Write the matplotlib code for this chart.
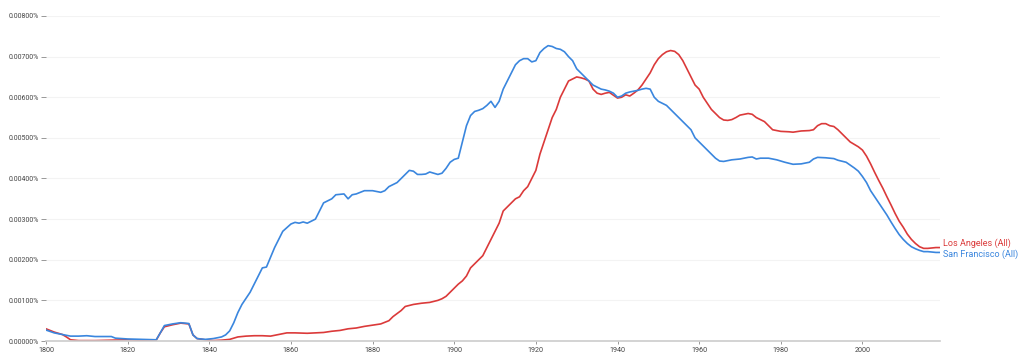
import matplotlib
matplotlib.use("Agg")
import matplotlib.pyplot as plt
from matplotlib.ticker import FuncFormatter, MultipleLocator

# Google Books Ngram style: frequency in percent
sf_years = [1800, 1802, 1804, 1806, 1808, 1810, 1812, 1814, 1816, 1817, 1820, 1824, 1827,
            1828, 1829, 1831, 1833, 1835, 1836, 1837, 1839, 1841, 1843, 1844, 1845, 1846,
            1847, 1848, 1850, 1852, 1853, 1854, 1856, 1858, 1860, 1861, 1862, 1863, 1864,
            1866, 1867, 1868, 1870, 1871, 1873, 1874, 1875, 1876, 1878, 1880, 1881, 1882,
            1883, 1884, 1886, 1887, 1888, 1889, 1890, 1891, 1892, 1893, 1894, 1895, 1896,
            1897, 1898, 1899, 1900, 1901, 1902, 1903, 1904, 1905, 1906, 1907, 1908, 1909,
            1910, 1911, 1912, 1913, 1914, 1915, 1916, 1917, 1918, 1919, 1920, 1921, 1922,
            1923, 1924, 1925, 1926, 1927, 1928, 1929, 1930, 1931, 1932, 1933, 1934, 1935,
            1936, 1937, 1938, 1939, 1940, 1941, 1942, 1943, 1944, 1945, 1946, 1947, 1948,
            1949, 1950, 1951, 1952, 1953, 1954, 1955, 1956, 1957, 1958, 1959, 1960, 1961,
            1962, 1963, 1964, 1965, 1966, 1967, 1968, 1970, 1972, 1973, 1974, 1975, 1977,
            1979, 1981, 1983, 1985, 1987, 1988, 1989, 1991, 1993, 1994, 1996, 1997, 1998,
            1999, 2000, 2001, 2002, 2003, 2004, 2005, 2006, 2007, 2008, 2009, 2010, 2011,
            2012, 2013, 2014, 2015, 2016, 2017, 2018, 2019]
sf_values = [0.00027, 0.00020, 0.00016, 0.00012, 0.00012, 0.00013, 0.00011, 0.00011, 0.00011,
             0.00007, 0.00005, 0.00004, 0.00003, 0.00020, 0.00038, 0.00042, 0.00045, 0.00043,
             0.00015, 0.00006, 0.00004, 0.00006, 0.00010, 0.00015, 0.00025, 0.00045, 0.00070,
             0.00090, 0.00120, 0.00160, 0.00180, 0.00182, 0.00230, 0.00270, 0.00288, 0.00292,
             0.00290, 0.00293, 0.00290, 0.00300, 0.00320, 0.00340, 0.00350, 0.00360, 0.00362,
             0.00350, 0.00360, 0.00362, 0.00370, 0.00370, 0.00368, 0.00366, 0.00370, 0.00380,
             0.00390, 0.00400, 0.00410, 0.00420, 0.00418, 0.00410, 0.00410, 0.00411, 0.00416,
             0.00413, 0.00410, 0.00413, 0.00425, 0.00440, 0.00447, 0.00450, 0.00490, 0.00530,
             0.00555, 0.00565, 0.00568, 0.00572, 0.00580, 0.00590, 0.00575, 0.00590, 0.00620,
             0.00640, 0.00660, 0.00680, 0.00690, 0.00695, 0.00695, 0.00687, 0.00690, 0.00710,
             0.00720, 0.00727, 0.00725, 0.00720, 0.00718, 0.00712, 0.00700, 0.00690, 0.00670,
             0.00660, 0.00650, 0.00640, 0.00630, 0.00625, 0.00620, 0.00618, 0.00615, 0.00610,
             0.00600, 0.00603, 0.00610, 0.00613, 0.00615, 0.00617, 0.00620, 0.00622, 0.00620,
             0.00600, 0.00590, 0.00585, 0.00580, 0.00570, 0.00560, 0.00550, 0.00540, 0.00530,
             0.00520, 0.00500, 0.00490, 0.00480, 0.00470, 0.00460, 0.00450, 0.00443, 0.00442,
             0.00444, 0.00446, 0.00448, 0.00452, 0.00453, 0.00448, 0.00450, 0.00450, 0.00446,
             0.00440, 0.00435, 0.00436, 0.00440, 0.00448, 0.00452, 0.00451, 0.00449, 0.00445,
             0.00440, 0.00433, 0.00426, 0.00418, 0.00405, 0.00390, 0.00370, 0.00355, 0.00340,
             0.00325, 0.00310, 0.00293, 0.00277, 0.00262, 0.00250, 0.00240, 0.00232, 0.00227,
             0.00223, 0.00220, 0.00220, 0.00219, 0.00218, 0.00218]

la_years = [1800, 1802, 1804, 1805, 1806, 1808, 1812, 1816, 1820, 1824, 1827, 1828, 1829,
            1831, 1833, 1835, 1836, 1837, 1839, 1841, 1843, 1845, 1847, 1849, 1851, 1853,
            1855, 1857, 1859, 1861, 1864, 1866, 1868, 1870, 1872, 1874, 1876, 1878, 1880,
            1882, 1884, 1885, 1887, 1888, 1890, 1892, 1894, 1896, 1897, 1898, 1899, 1900,
            1901, 1902, 1903, 1904, 1905, 1906, 1907, 1908, 1909, 1910, 1911, 1912, 1913,
            1914, 1915, 1916, 1917, 1918, 1919, 1920, 1921, 1922, 1923, 1924, 1925, 1926,
            1927, 1928, 1929, 1930, 1931, 1932, 1933, 1934, 1935, 1936, 1937, 1938, 1939,
            1940, 1941, 1942, 1943, 1944, 1945, 1946, 1947, 1948, 1949, 1950, 1951, 1952,
            1953, 1954, 1955, 1956, 1957, 1958, 1959, 1960, 1961, 1962, 1963, 1964, 1965,
            1966, 1967, 1968, 1969, 1970, 1971, 1972, 1973, 1974, 1975, 1976, 1977, 1978,
            1979, 1980, 1982, 1983, 1985, 1987, 1988, 1989, 1990, 1991, 1992, 1993, 1994,
            1995, 1996, 1997, 1998, 1999, 2000, 2001, 2002, 2003, 2004, 2005, 2006, 2007,
            2008, 2009, 2010, 2011, 2012, 2013, 2014, 2015, 2016, 2017, 2018, 2019]
la_values = [0.00030, 0.00022, 0.00016, 0.00010, 0.00003, 0.00001, 0.00001, 0.00002, 0.00003,
             0.00002, 0.00002, 0.00020, 0.00035, 0.00040, 0.00044, 0.00042, 0.00015, 0.00006,
             0.00003, 0.00001, 0.00002, 0.00004, 0.00010, 0.00012, 0.00013, 0.00013, 0.00012,
             0.00016, 0.00020, 0.00020, 0.00019, 0.00020, 0.00021, 0.00024, 0.00026, 0.00030,
             0.00032, 0.00036, 0.00039, 0.00042, 0.00050, 0.00060, 0.00075, 0.00085, 0.00090,
             0.00093, 0.00095, 0.00100, 0.00104, 0.00110, 0.00120, 0.00130, 0.00140, 0.00148,
             0.00160, 0.00180, 0.00190, 0.00200, 0.00210, 0.00230, 0.00250, 0.00270, 0.00290,
             0.00320, 0.00330, 0.00340, 0.00350, 0.00355, 0.00370, 0.00380, 0.00400, 0.00420,
             0.00460, 0.00490, 0.00520, 0.00550, 0.00570, 0.00600, 0.00620, 0.00640, 0.00645,
             0.00650, 0.00648, 0.00645, 0.00640, 0.00620, 0.00610, 0.00607, 0.00610, 0.00612,
             0.00605, 0.00598, 0.00600, 0.00606, 0.00603, 0.00610, 0.00618, 0.00630, 0.00645,
             0.00660, 0.00680, 0.00695, 0.00705, 0.00712, 0.00715, 0.00713, 0.00705, 0.00690,
             0.00670, 0.00650, 0.00630, 0.00620, 0.00600, 0.00585, 0.00570, 0.00560, 0.00550,
             0.00544, 0.00543, 0.00545, 0.00550, 0.00556, 0.00558, 0.00560, 0.00558, 0.00550,
             0.00545, 0.00540, 0.00530, 0.00520, 0.00518, 0.00516, 0.00515, 0.00514, 0.00517,
             0.00518, 0.00520, 0.00530, 0.00535, 0.00535, 0.00530, 0.00528, 0.00520, 0.00510,
             0.00500, 0.00490, 0.00484, 0.00478, 0.00470, 0.00455, 0.00436, 0.00415, 0.00395,
             0.00376, 0.00355, 0.00335, 0.00314, 0.00295, 0.00280, 0.00263, 0.00250, 0.00240,
             0.00232, 0.00228, 0.00228, 0.00229, 0.00230, 0.00230]

series = [
    ("Los Angeles (All)", la_years, la_values, "#db3a3a", 3),
    ("San Francisco (All)", sf_years, sf_values, "#3a86de", -1),
]

plt.rcParams["font.family"] = ["Roboto", "DejaVu Sans"]

fig = plt.figure(figsize=(10.23, 3.54), dpi=100)
ax = fig.add_axes([46 / 1023, 13 / 354, 894 / 1023, 325 / 354])

for label, yrs, vals, color, dy in series:
    ax.plot(yrs, vals, color=color, lw=1.2, solid_joinstyle="round")
    ax.annotate(label, (yrs[-1], vals[-1]), xytext=(2, dy), textcoords="offset points",
                color=color, fontsize=6.5, va="center", ha="left", annotation_clip=False)

ax.set_xlim(1800, 2019)
ax.set_ylim(0, 0.008)
ax.xaxis.set_major_locator(MultipleLocator(20))
ax.yaxis.set_major_locator(MultipleLocator(0.001))
ax.yaxis.set_major_formatter(FuncFormatter(lambda v, p: f"{v:.5f}%"))

ax.grid(axis="y", color="#f3f3f3", lw=0.8)
ax.set_axisbelow(True)
for side in ("top", "right", "left"):
    ax.spines[side].set_visible(False)
ax.spines["bottom"].set_color("#cccccc")
ax.spines["bottom"].set_linewidth(1.2)

ax.tick_params(axis="y", length=3.5, width=0.6, color="#888888", pad=1.5,
               labelsize=5, labelcolor="#444444")
ax.tick_params(axis="x", length=2.5, width=0.6, color="#888888", pad=1.5,
               labelsize=5.2, labelcolor="#444444")

fig.savefig("out.png", dpi=100)
